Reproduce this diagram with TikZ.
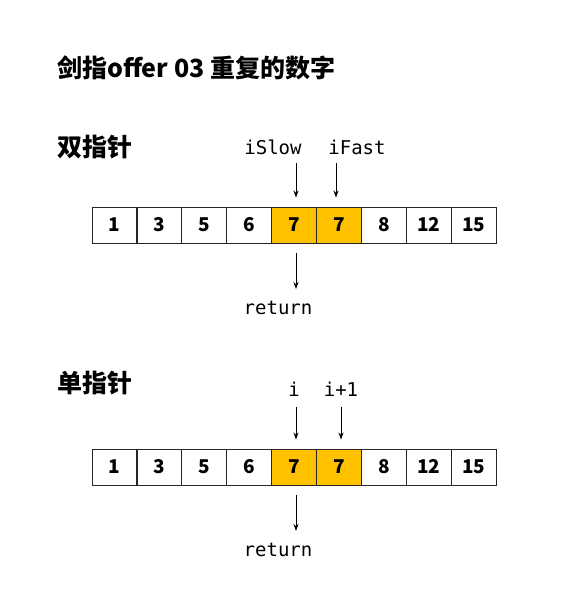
\documentclass[tikz,border=0pt]{standalone}
\usepackage{fontspec}
\setmainfont{Noto Sans CJK SC}
\setmonofont{DejaVu Sans Mono}
\usetikzlibrary{arrows.meta}
\definecolor{hl}{HTML}{FFC000}
\begin{document}
\begin{tikzpicture}[x=1pt,y=-1pt,
  cell/.style={draw=black!85,line width=0.9pt,minimum width=45pt,minimum height=36pt,inner sep=0pt,
    text height=13.8pt,text depth=0pt,
    font=\fontsize{19}{19}\selectfont\bfseries},
  hot/.style={cell,fill=hl},
  lab/.style={font=\fontsize{19}{19}\ttfamily,inner sep=0pt,anchor=base},
  head/.style={font=\fontsize{25}{25}\selectfont\bfseries,inner sep=0pt,anchor=base west},
  arr/.style={-{Stealth[length=7pt,width=5pt]},line width=0.9pt}]
\useasboundingbox (0,0) rectangle (579,597);
\node[head] (title) at (57,77) {剑指offer 03 重复的数字};
\node[head] (h1) at (57,156) {双指针};
\node[head] (h2) at (57,392) {单指针};
% arrays
\foreach \v [count=\k] in {1,3,5,6,7,7,8,12,15}{
  \ifnum\k=5 \def\st{hot}\else\ifnum\k=6 \def\st{hot}\else\def\st{cell}\fi\fi
  \node[\st] (c\k) at ({92+44.9*(\k-0.5)},225) {\v};
  \node[\st] (d\k) at ({92+44.9*(\k-0.5)},467) {\v};
}
% top labels
\node[lab] (ls) at (273,154) {iSlow};
\node[lab] (lf) at (357,154) {iFast};
\node[lab] (r1) at (278,314) {return};
\coordinate (as) at (296,163);
\coordinate (af) at (336,163);
\coordinate (ar1) at (296,253);
\coordinate (er1) at (296,289);
\draw[arr] (as) -- ([yshift=9pt]as |- c5.north);
\draw[arr] (af) -- ([yshift=9pt]af |- c6.north);
\draw[arr] (ar1) -- (er1);
% bottom labels
\node[lab] (li) at (294,396) {i};
\node[lab] (li1) at (341,396) {i+1};
\node[lab] (r2) at (278,556) {return};
\coordinate (ai) at (296,407);
\coordinate (ai1) at (341,407);
\coordinate (ar2) at (296,495);
\coordinate (er2) at (296,531);
\draw[arr] (ai) -- ([yshift=9pt]ai |- d5.north);
\draw[arr] (ai1) -- ([yshift=9pt]ai1 |- d6.north);
\draw[arr] (ar2) -- (er2);
\end{tikzpicture}
\end{document}
